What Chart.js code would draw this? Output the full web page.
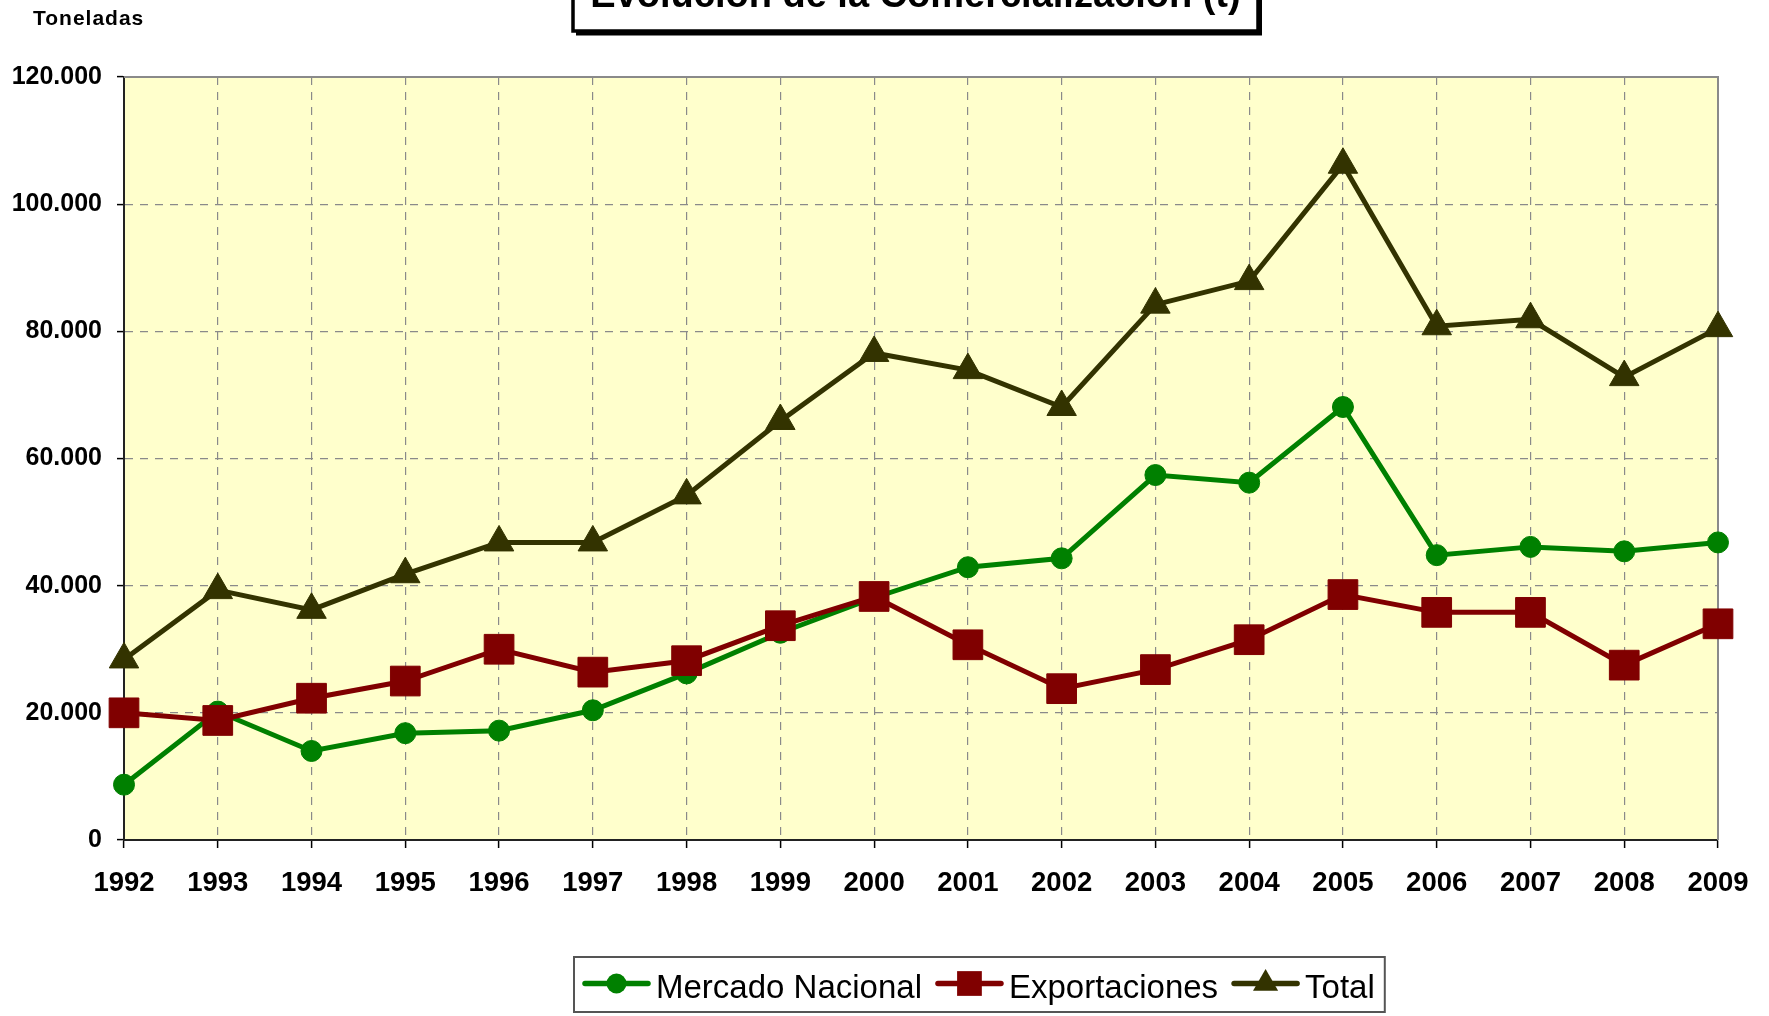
<!DOCTYPE html>
<html>
<head>
<meta charset="utf-8">
<title>Evolución de la Comercialización (t)</title>
<script src="https://cdn.jsdelivr.net/npm/chart.js@4.4.1/dist/chart.umd.min.js"></script>
<style>
    html, body { margin: 0; padding: 0; background: #ffffff; }
    #wrap { position: relative; width: 1769px; height: 1016px; }
</style>
</head>
<body>
<div id="wrap"><canvas id="chart"></canvas></div>
<script>
// Data (toneladas)
const years = ['1992', '1993', '1994', '1995', '1996', '1997', '1998', '1999', '2000',
               '2001', '2002', '2003', '2004', '2005', '2006', '2007', '2008', '2009'];
const mercadoNacional = [8700, 20200, 14000, 16800, 17200, 20400, 26200, 32600, 38100,
                         42900, 44300, 57400, 56200, 68100, 44800, 46100, 45400, 46800];
const exportaciones = [20000, 18800, 22300, 25000, 30000, 26400, 28200, 33700, 38300,
                       30700, 23800, 26800, 31500, 38600, 35800, 35800, 27500, 34000];
const total = [28400, 39300, 36200, 41800, 46800, 46800, 54200, 65900, 76600,
               73900, 68100, 84200, 87900, 106200, 80800, 81900, 72800, 80500];

const titleText = 'Evolución de la Comercialización (t)';
const unitText = 'Toneladas';
const yMin = 0;
const yMax = 120000;
const yStep = 20000;

const FONT = "'Liberation Sans', Arial, sans-serif";

const COLOR_NAC = '#008000';
const COLOR_EXP = '#800000';
const COLOR_TOT = '#333300';

Chart.defaults.font.family = FONT;
Chart.defaults.color = '#000';

// thousands with a dot, like the original
function fmtThousands(v) {
    return String(v).replace(/\B(?=(\d{3})+(?!\d))/g, '.');
}

function drawMarker(ctx, shape, x, y, r) {
    ctx.beginPath();
    if (shape === 'circle') {
        ctx.arc(x, y, r, 0, Math.PI * 2);
    } else if (shape === 'rect') {
        const s = r * Math.SQRT1_2;
        ctx.rect(x - s, y - s, 2 * s, 2 * s);
    } else if (shape === 'triangle') {
        const hw = r * Math.sqrt(3) / 2;
        ctx.moveTo(x, y - r);
        ctx.lineTo(x + hw, y + r / 2);
        ctx.lineTo(x - hw, y + r / 2);
        ctx.closePath();
    }
    ctx.fill();
}

const legendItems = [
    { label: 'Mercado Nacional', color: COLOR_NAC, shape: 'circle', r: 10 },
    { label: 'Exportaciones', color: COLOR_EXP, shape: 'rect', r: 17.5 },
    { label: 'Total', color: COLOR_TOT, shape: 'triangle', r: 14.5 }
];

const decorPlugin = {
    id: 'decor',
    beforeDraw(chart) {
        const {ctx, chartArea: a} = chart;
        ctx.save();
        ctx.fillStyle = '#ffffff';
        ctx.fillRect(0, 0, chart.width, chart.height);
        ctx.fillStyle = '#FFFFCC';
        ctx.fillRect(a.left, a.top, a.right - a.left, a.bottom - a.top);
        ctx.restore();
    },
    beforeDatasetsDraw(chart) {
        // gray frame on top and right of the plot area
        const {ctx, chartArea: a} = chart;
        ctx.save();
        ctx.strokeStyle = '#8a8a8a';
        ctx.lineWidth = 2;
        ctx.beginPath();
        ctx.moveTo(a.left, a.top);
        ctx.lineTo(a.right, a.top);
        ctx.lineTo(a.right, a.bottom);
        ctx.stroke();
        ctx.restore();
    },
    afterDraw(chart) {
        const ctx = chart.ctx;
        ctx.save();

        // title box, cut by the top edge
        const bx = 573, bw = 685, by = -60, bh = 91;
        ctx.fillStyle = '#000';
        ctx.fillRect(bx + 3, by + 3, bw + 1, bh + 1.5);
        ctx.fillStyle = '#fff';
        ctx.fillRect(bx, by, bw, bh);
        ctx.strokeStyle = '#000';
        ctx.lineWidth = 3.5;
        ctx.strokeRect(bx, by, bw, bh);
        ctx.fillStyle = '#000';
        ctx.font = 'bold 38px ' + FONT;
        ctx.textAlign = 'center';
        ctx.textBaseline = 'alphabetic';
        ctx.fillText(titleText, bx + bw / 2, 7);

        // unit label
        ctx.font = 'bold 21px ' + FONT;
        ctx.textAlign = 'left';
        ctx.letterSpacing = '1px';
        ctx.fillText(unitText, 33, 25);
        ctx.letterSpacing = '0px';

        // legend
        const lineLen = 67, gapText = 6, gapItem = 14, padL = 9, padR = 10;
        ctx.font = '33px ' + FONT;
        const widths = legendItems.map(it => ctx.measureText(it.label).width);
        let w = padL + padR + gapItem * (legendItems.length - 1);
        widths.forEach(tw => { w += lineLen + gapText + tw; });
        const lx = Math.round(979 - w / 2), ly = 957, lh = 55;
        ctx.fillStyle = '#fff';
        ctx.fillRect(lx, ly, w, lh);
        ctx.strokeStyle = '#555';
        ctx.lineWidth = 2;
        ctx.strokeRect(lx, ly, w, lh);

        const cy = ly + lh / 2 - 1;
        let x = lx + padL;
        legendItems.forEach((it, i) => {
            ctx.strokeStyle = it.color;
            ctx.fillStyle = it.color;
            ctx.lineWidth = 5.5;
            ctx.lineCap = 'round';
            ctx.beginPath();
            ctx.moveTo(x + 2, cy);
            ctx.lineTo(x + lineLen - 2, cy);
            ctx.stroke();
            drawMarker(ctx, it.shape, x + lineLen / 2, cy, it.r);
            x += lineLen + gapText;
            ctx.fillStyle = '#000';
            ctx.textBaseline = 'middle';
            ctx.fillText(it.label, x, cy + 5);
            x += widths[i] + gapItem;
        });

        ctx.restore();
    }
};

function seriesStyle(color, shape, radius, order) {
    return {
        borderColor: color,
        backgroundColor: color,
        borderWidth: 5,
        pointStyle: shape,
        pointRadius: radius,
        pointHoverRadius: radius,
        pointBackgroundColor: color,
        pointBorderColor: color,
        pointBorderWidth: 1,
        tension: 0,
        fill: false,
        clip: false,
        order: order
    };
}

const ctx = document.getElementById('chart').getContext('2d');
new Chart(ctx, {
    type: 'line',
    data: {
        labels: years,
        datasets: [
            { label: 'Mercado Nacional', data: mercadoNacional, ...seriesStyle(COLOR_NAC, 'circle', 10.5, 2) },
            { label: 'Exportaciones', data: exportaciones, ...seriesStyle(COLOR_EXP, 'rect', 21, 1) },
            { label: 'Total', data: total, ...seriesStyle(COLOR_TOT, 'triangle', 17, 0) }
        ]
    },
    options: {
        responsive: true,
        maintainAspectRatio: false,
        animation: false,
        layout: { padding: { left: 0, top: 77, right: 51, bottom: 0 } },
        plugins: {
            legend: { display: false },
            title: { display: false },
            tooltip: { enabled: false }
        },
        scales: {
            x: {
                offset: false,
                afterFit(scale) { scale.height = 176; },
                grid: {
                    color: '#8a8a8a',
                    lineWidth: 1.2,
                    tickLength: 8,
                    tickColor: '#000',
                    tickWidth: 1.5
                },
                border: { color: '#222', width: 2, dash: [8, 7] },
                ticks: {
                    autoSkip: false,
                    maxRotation: 0,
                    padding: 19,
                    color: '#000',
                    font: { size: 27.5, weight: 'bold' }
                }
            },
            y: {
                min: yMin,
                max: yMax,
                afterFit(scale) { scale.width = 124; },
                grid: {
                    color: '#8a8a8a',
                    lineWidth: 1.2,
                    tickLength: 7,
                    tickColor: '#000',
                    tickWidth: 1.5
                },
                border: { color: '#222', width: 2, dash: [8, 7] },
                ticks: {
                    stepSize: yStep,
                    padding: 15,
                    color: '#000',
                    font: { size: 25, weight: 'bold' },
                    callback: v => fmtThousands(v)
                }
            }
        }
    },
    plugins: [decorPlugin]
});
</script>
</body>
</html>
